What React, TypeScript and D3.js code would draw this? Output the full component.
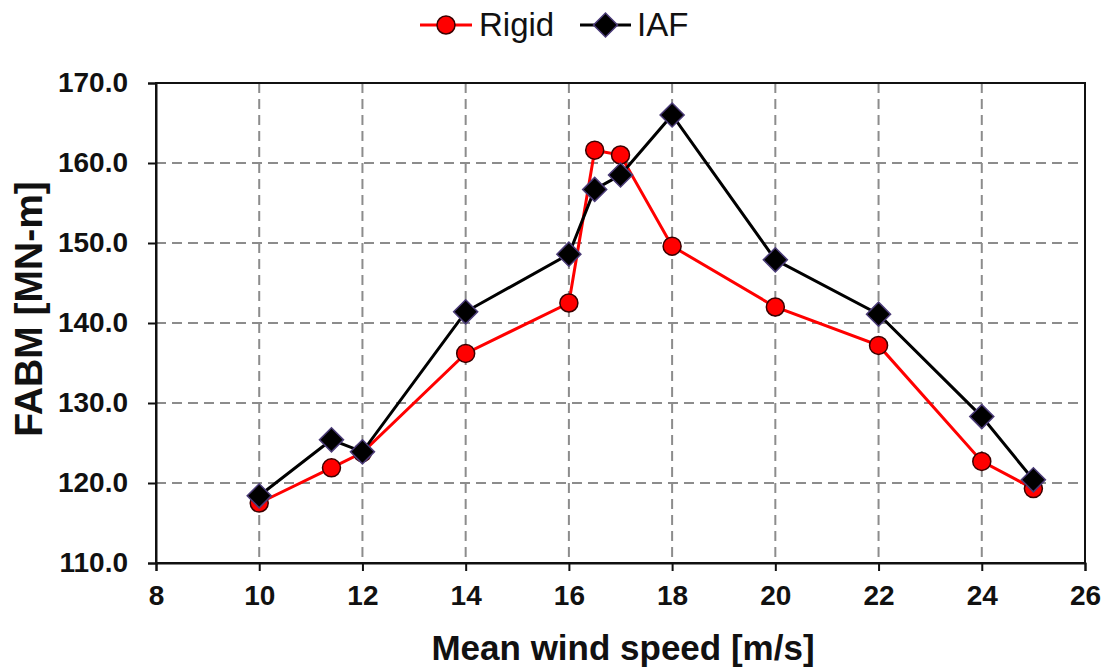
import * as d3 from 'd3';
import { useRef, useEffect } from 'react';

// wind speeds and FABM values
const rigidSpeed = [10, 11.4, 12, 14, 16, 16.5, 17, 18, 20, 22, 24, 25];
const rigidFabm = [117.5, 121.9, 123.8, 136.2, 142.5, 161.6, 161.0, 149.6, 142.0, 137.2, 122.7, 119.3];
const iafSpeed = [10, 11.4, 12, 14, 16, 16.5, 17, 18, 20, 22, 24, 25];
const iafFabm = [118.4, 125.4, 123.9, 141.4, 148.6, 156.7, 158.5, 166.0, 147.9, 141.1, 128.3, 120.4];
const xTicks = [8, 10, 12, 14, 16, 18, 20, 22, 24, 26];
const yTicks = [110, 120, 130, 140, 150, 160, 170];

export default function App() {
    const ref = useRef<SVGSVGElement>(null);

    useEffect(() => {
        const svg = d3.select(ref.current);
        svg.selectAll('*').remove();

        const font = '"Liberation Sans", Arial, sans-serif';
        const left = 156, right = 1085, top = 83, bottom = 563;

        const x = d3.scaleLinear().domain([8, 26]).range([left, right]);
        const y = d3.scaleLinear().domain([110, 170]).range([bottom, top]);

        // dashed grid
        svg.append('g')
            .selectAll('line')
            .data(xTicks.slice(1, -1))
            .enter()
            .append('line')
            .attr('x1', d => x(d)).attr('x2', d => x(d))
            .attr('y1', top).attr('y2', bottom)
            .attr('stroke', '#8c8c8c')
            .attr('stroke-width', 2)
            .attr('stroke-dasharray', '10,6');

        svg.append('g')
            .selectAll('line')
            .data(yTicks.slice(1, -1))
            .enter()
            .append('line')
            .attr('x1', left).attr('x2', right)
            .attr('y1', d => y(d)).attr('y2', d => y(d))
            .attr('stroke', '#8c8c8c')
            .attr('stroke-width', 2)
            .attr('stroke-dasharray', '10,6');

        // plot frame
        svg.append('rect')
            .attr('x', left).attr('y', top)
            .attr('width', right - left).attr('height', bottom - top)
            .attr('fill', 'none')
            .attr('stroke', '#111')
            .attr('stroke-width', 2);

        // axes
        const xAxis = svg.append('g')
            .attr('transform', `translate(0,${bottom})`)
            .call(d3.axisBottom(x).tickValues(xTicks).tickSize(8).tickPadding(14).tickFormat(d3.format('d')));
        const yAxis = svg.append('g')
            .attr('transform', `translate(${left},0)`)
            .call(d3.axisLeft(y).tickValues(yTicks).tickSize(8).tickPadding(20).tickFormat(d3.format('.1f')));

        [xAxis, yAxis].forEach(ax => {
            ax.select('.domain').attr('stroke', '#111').attr('stroke-width', 2);
            ax.selectAll('.tick line').attr('stroke', '#111').attr('stroke-width', 2);
            ax.selectAll('.tick text')
                .attr('fill', '#111')
                .style('font-family', font)
                .style('font-weight', 'bold')
                .style('font-size', '28px');
        });

        // series
        const series = [
            { name: 'Rigid', xs: rigidSpeed, ys: rigidFabm, color: '#ff0000', marker: 'circle' },
            { name: 'IAF', xs: iafSpeed, ys: iafFabm, color: '#000000', marker: 'diamond' }
        ];

        const line = d3.line<[number, number]>().x(d => x(d[0])).y(d => y(d[1]));
        const circle = d3.symbol().type(d3.symbolCircle).size(Math.PI * 9 * 9);
        const diamond = d3.symbol().type(d3.symbolSquare).size(17 * 17);

        const drawMarker = (g: any, kind: string, cx: number, cy: number) => {
            if (kind === 'circle') {
                g.append('path')
                    .attr('d', circle())
                    .attr('transform', `translate(${cx},${cy})`)
                    .attr('fill', '#ff0000')
                    .attr('stroke', '#3a0000')
                    .attr('stroke-width', 1.5);
            } else {
                g.append('path')
                    .attr('d', diamond())
                    .attr('transform', `translate(${cx},${cy}) rotate(45)`)
                    .attr('fill', '#000')
                    .attr('stroke', '#4b3c78')
                    .attr('stroke-width', 1.5);
            }
        };

        series.forEach(s => {
            const pts: [number, number][] = s.xs.map((v, i) => [v, s.ys[i]]);
            const g = svg.append('g');
            g.append('path')
                .datum(pts)
                .attr('d', line)
                .attr('fill', 'none')
                .attr('stroke', s.color)
                .attr('stroke-width', 3);
            pts.forEach(p => drawMarker(g, s.marker, x(p[0]), y(p[1])));
        });

        // legend
        const legendItems = [
            { x0: 420, x1: 472, tx: 479 },
            { x0: 580, x1: 631, tx: 637 }
        ];
        series.forEach((s, i) => {
            const L = legendItems[i];
            const g = svg.append('g');
            g.append('line')
                .attr('x1', L.x0).attr('x2', L.x1)
                .attr('y1', 25).attr('y2', 25)
                .attr('stroke', s.color)
                .attr('stroke-width', 3);
            drawMarker(g, s.marker, (L.x0 + L.x1) / 2, 25);
            g.append('text')
                .attr('x', L.tx).attr('y', 36)
                .text(s.name)
                .style('font-family', font)
                .style('font-size', '33px')
                .attr('fill', '#111');
        });

        // axis titles
        svg.append('text')
            .attr('x', 623).attr('y', 660)
            .attr('text-anchor', 'middle')
            .text('Mean wind speed [m/s]')
            .style('font-family', font)
            .style('font-weight', 'bold')
            .style('font-size', '35px')
            .attr('fill', '#111');

        svg.append('text')
            .attr('transform', 'translate(42,309) rotate(-90)')
            .attr('text-anchor', 'middle')
            .text('FABM [MN-m]')
            .style('font-family', font)
            .style('font-weight', 'bold')
            .style('font-size', '39px')
            .attr('fill', '#111');
    }, []);

    return (
        <svg ref={ref} width={1108} height={672}
            style={{ position: 'absolute', left: 0, top: 0, background: '#fff' }}></svg>
    );
}
